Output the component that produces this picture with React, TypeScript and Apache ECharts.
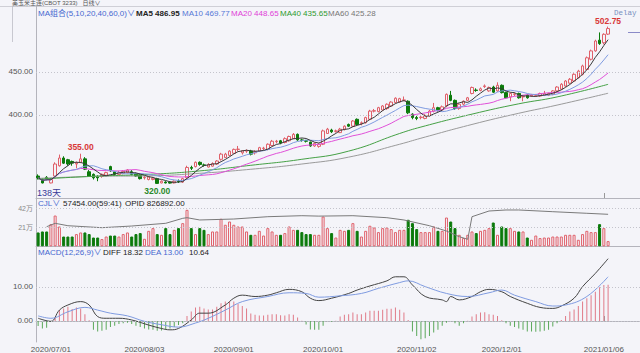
import React, { useEffect, useRef } from "react";
import * as echarts from "echarts";

const FONT = '"Liberation Sans", "Noto Sans CJK SC", "DejaVu Sans", sans-serif';
const BG = "#f4f4f9";
const UP = "#e0606a";
const DOWN = "#0b7a0b";
const AXIS = "#b4b4bc";
const GRIDLINE = "#c4c4cc";

// ---- categories (trading days) ----
const HOLIDAYS = ["2020/07/03", "2020/09/07", "2020/11/26", "2020/12/25", "2021/01/01"];
const FIRST_DAY = "2020/06/26";
const DAY_COUNT = 135;
const BLANK_SLOTS = 7;
const SHOWN_DATES = ["2020/07/01", "2020/08/03", "2020/09/01", "2020/10/01", "2020/11/02", "2020/12/01", "2021/01/06"];
const MARK_DATE = "2021/01/06";

// ---- candles ----
const opens = [
  329, 325, 327.5, 321, 329, 341, 350, 348, 346, 343,
  345, 349, 334, 331, 328, 328.5, 330, 340, 334, 331,
  332, 333, 334, 332, 330, 327, 325, 325, 326, 321,
  322, 322, 321, 323, 322, 327, 339, 340, 345, 342,
  339.5, 340.5, 343, 348.5, 350.5, 353, 355.5, 360, 356, 358,
  358, 356, 358, 361, 360, 364.5, 369, 370, 368, 370,
  372.5, 377.5, 371, 370, 368.5, 364, 363.5, 366, 378.5, 382.5,
  381, 379.5, 383.5, 389, 387, 395, 390, 391, 395, 404.5,
  404, 405.8, 407.5, 410.5, 414.5, 415, 417, 416, 401, 397,
  397, 396, 399, 404.5, 408.5, 406, 410.5, 423, 417, 407.5,
  412.5, 417, 425, 429, 428.5, 433, 428, 432.5, 428, 434.5,
  426, 421, 424, 425, 421, 423, 422, 423, 422, 423,
  423, 424, 428, 430, 433.7, 437, 439.5, 443.5, 447.3, 453,
  464.8, 474.5, 487, 484, 494,
];
const closes = [
  327, 321, 326, 325, 343, 350, 344, 343, 344, 344,
  349, 337, 329, 327, 327, 331, 333, 335, 331, 333,
  334.5, 336, 331, 329, 326, 327.5, 328, 326.5, 320.5, 323,
  321, 320.8, 323, 322.5, 326, 339, 338, 345, 342.5, 341.5,
  342.5, 343.5, 346.5, 354.5, 354.5, 358, 360, 360.3, 358.5, 358.5,
  354.5, 357.5, 362, 361.5, 366, 369.5, 369.5, 367.5, 372.5, 375,
  377.5, 371, 370.5, 369.5, 364, 367, 366, 381.5, 383.5, 380.5,
  381.5, 383.5, 387, 387, 393, 389, 391, 397, 404.5, 405,
  408.5, 410.5, 412.5, 415, 419.5, 419, 417.5, 402.5, 397, 396,
  397.5, 399.5, 404.5, 408.5, 406, 409.5, 424, 417, 407.5, 412.5,
  416, 420, 432, 428.5, 430.5, 433.8, 432, 426.5, 434.5, 426,
  420, 425, 424.5, 420, 421.5, 420, 423, 423, 425, 425,
  425, 428, 432.5, 435.7, 439.5, 441.5, 447.3, 451, 457, 466.5,
  474.5, 486, 483, 493.8, 500.5,
];
const lows = [
  325, 320.5, 324, 320.5, 328, 340, 343, 341, 341, 338,
  344, 336, 328, 325, 323, 327, 329, 334, 330, 330,
  331, 332, 330, 328, 325, 325, 324, 324, 320, 320.5,
  320.5, 320.2, 320.5, 321, 321, 326, 336, 339, 341, 340,
  339, 340, 342, 347, 350, 352, 355, 358, 354, 356,
  353, 354, 357, 359, 359, 364, 367, 366, 367, 369,
  372, 370, 369, 368, 363, 363, 362, 365, 378, 379,
  379.5, 379, 382, 386, 386, 388, 388, 390, 394, 403,
  403, 405, 406, 409.5, 413.5, 414, 416, 401, 395, 394,
  395, 395, 398, 403, 404, 405, 409, 416, 406, 406,
  411, 416, 424, 427, 427.5, 431.5, 427, 425.5, 427, 425,
  419, 416, 422, 419, 416, 419, 421, 421.5, 421, 422,
  422, 423, 427, 429, 432.5, 436, 438.5, 442.5, 446, 452,
  463.5, 473.5, 481.5, 482, 493,
];
const highs = [
  331, 326, 329, 326.5, 345, 354, 352, 349, 347, 346,
  355, 351, 336, 332, 330, 332, 334, 341, 335, 335,
  336, 337, 336, 333, 331, 329, 329, 328, 327, 324,
  323, 323, 324, 325, 327, 341, 341, 346, 346, 343.5,
  344, 345, 347.5, 356, 356, 359, 361, 364, 359, 360,
  359.5, 359, 363, 363, 367, 371, 371, 371, 374, 376,
  379, 378.5, 372.5, 371, 369, 368, 367, 383, 385, 384,
  383, 385, 388, 390, 394, 396, 392.5, 398, 406, 407,
  409.5, 411.5, 413.5, 416, 420.5, 420, 421.5, 417, 402, 399,
  399, 401, 406, 414, 409.5, 411, 425, 428, 418, 413.5,
  417, 421, 433, 431, 432, 435.5, 433, 434, 438, 435.5,
  427, 426, 426, 426, 423, 424, 424.5, 424.5, 426, 428,
  426, 429, 433.5, 437, 440.5, 443, 448.5, 452.5, 458.5, 468,
  476, 487.5, 496, 495, 502.75,
];

// MA40 / MA60 at sample points: [candle index, value]
const ma40Pts = [
  [0, 325.3], [14, 329], [26, 331], [38, 335], [50, 341.5], [62, 348.5], [73, 358],
  [85, 378.5], [90, 386], [102, 401], [113, 413], [122, 421], [134, 435.65],
];
const ma60Pts = [
  [0, 326.3], [14, 328.7], [26, 329.3], [38, 332.2], [50, 336.9], [62, 343], [73, 351],
  [85, 366], [90, 373], [102, 389], [113, 402], [122, 411.5], [134, 425.28],
];

// ---- volume (万) and open interest ----
const volumes = [
  15.3, 16.4, 16.4, 24.5, 34, 21.9, 10.8, 10.8, 10.8, 13.5,
  15.3, 15.3, 13.5, 9.7, 9.7, 8.0, 10.8, 11.9, 11.9, 10.8,
  13.5, 15.3, 10.8, 13.5, 14.6, 8.3, 17.1, 20.1, 13.5, 12.7,
  20.1, 13.5, 18.2, 20.1, 25.6, 40.3, 20.1, 13.5, 20.1, 18.2,
  13.5, 16.4, 16.4, 30.4, 23.8, 27.4, 23.8, 21.9, 21.9, 16.4,
  12.7, 12.7, 17.1, 11.9, 20.1, 16.4, 12.7, 12.7, 14.6, 21.9,
  18.2, 18.2, 15.7, 13.5, 13.5, 12.7,
  12.7, 32.9, 20.1, 14.6, 9.7, 18.2, 17.1, 18.2, 25.6, 17.1,
  10.8, 17.1, 22.7, 20.8, 15.7, 20.1, 20.8, 19, 15.7, 18.2,
  18.2, 29.3, 25.6, 19, 15.7, 15.7, 15.7, 21.9, 17.1, 17.1,
  31.8, 27.4, 20.1, 12.7, 9.1, 12.7, 16.4, 14.6, 17.1, 18.2,
  20.1, 26.3, 12.7, 21.9, 20.1, 20.1, 17.1, 16.4, 16.4, 9.7,
  7.2, 11.9, 9.1, 9.7, 9.7, 10.8, 10.8, 10.8, 12.7, 12.7,
  12.7, 7.2, 13.5, 17.1, 15.7, 15.7, 24.5, 20.1, 5.7454,
];
const opidPts = [
  [2, 506000], [4, 594000], [7, 532000], [15, 481000], [22, 524000], [30, 594000],
  [34, 723000], [35, 739000], [38, 680000], [46, 705000], [54, 765000], [62, 791000],
  [66, 780000], [74, 791000], [82, 739000], [86, 680000], [92, 532000], [96, 395000],
  [99, 248000], [101, 181000], [102, 765000], [106, 912000], [110, 938000], [113, 938000],
  [121, 894000], [129, 853000], [134, 826892],
];

// ---- MACD ----
const macdHist = [
  -1.5, -2.2, -2.0, -0.3, 1.0, 3.2, 3.7, 4.2, 3.5, 4.0,
  3.7, 2.0, 0.2, -2.6, -3.1, -2.9, -2.6, -1.8, -1.4, -0.9,
  -0.7, -0.5, -0.9, -1.4, -1.8, -2.2, -2.5, -2.6, -2.9, -2.8,
  -2.6, -2.2, -1.8, -1.2, -0.7, 1.5, 2.8, 4.0, 4.2, 3.7,
  3.4, 3.4, 4.2, 5.2, 5.7, 5.7, 5.7, 5.0, 4.4, 3.7,
  2.2, 1.8, 1.6, 1.6, 1.8, 2.0, 2.0, 1.7, 1.6, 2.0,
  1.8, 1.0, 0.1, -1.0, -2.5, -2.6, -2.6, -1.4, -0.2, -0.2,
  0.1, 1.3, 1.8, 2.0, 2.5, 2.0, 2.0, 2.5, 3.0, 3.0,
  3.0, 3.3, 3.6, 3.6, 4.0, 3.3, 2.5, 0.3, -3.1, -4.4,
  -5.4, -5.1, -4.4, -3.4, -2.6, -1.4, -0.5, -0.2, -0.7, -1.4,
  -0.7, 0.1, 1.3, 2.0, 2.5, 2.6, 2.0, 1.8, 1.5, 0.2,
  -0.7, -1.4, -1.8, -2.2, -2.6, -3.1, -3.1, -3.2, -3.1, -2.9,
  -2.6, -1.6, -0.7, 0.3, 1.5, 2.8, 3.4, 4.4, 5.7, 6.7,
  7.6, 8.6, 9.9, 10.6, 10.64,
];
const diffPts = [
  [0, 0.8], [3, -0.1], [5, 3.2], [7, 4.7], [10, 5.7], [12, 4.7], [14, 1.3], [16, 0.8],
  [19, 0.8], [22, 0.3], [26, -1.2], [29, -2.2], [31, -2.6], [33, -2.2], [36, 0.3], [38, 2.3],
  [40, 2.3], [44, 4.7], [46, 6.7], [48, 7.6], [51, 7.2], [54, 7.6], [56, 8.3], [59, 9.3],
  [62, 8.6], [64, 6.7], [66, 6.0], [69, 6.7], [73, 8.1], [75, 9.1], [78, 10.3], [82, 11.8],
  [84, 13.0], [86, 13.0], [88, 10.6], [91, 7.2], [95, 6.2], [96, 5.7], [97, 7.2], [99, 6.2],
  [102, 7.2], [104, 8.6], [106, 9.3], [109, 8.6], [111, 7.2], [115, 5.2], [118, 4.0],
  [121, 3.7], [123, 4.4], [126, 6.7], [128, 10.1], [131, 14.0], [134, 18.32],
];
const deaPts = [
  [0, 1.5], [3, 0.8], [7, 2.7], [11, 4.0], [14, 3.2], [17, 2.3], [21, 1.5], [25, -0.1],
  [29, -1.1], [33, -1.8], [37, -0.6], [40, 0.8], [44, 3.2], [48, 5.7], [54, 7.2], [59, 8.3],
  [63, 8.1], [66, 7.0], [71, 7.4], [76, 8.1], [80, 9.6], [85, 11.3], [87, 11.8], [91, 10.1],
  [96, 8.1], [101, 7.2], [106, 8.3], [109, 9.1], [112, 7.6], [117, 5.7], [121, 4.4],
  [124, 4.7], [129, 7.2], [134, 13.0],
];

// ---- header texts ----
const maHeader = [
  { text: "MA组合(5,10,20,40,60,0)∨", x: 38, color: "#4468d0", bold: false },
  { text: "MA5 486.95", x: 136, color: "#222222", bold: true },
  { text: "MA10 469.77", x: 182, color: "#5577d6", bold: false },
  { text: "MA20 448.65", x: 231, color: "#e040d8", bold: false },
  { text: "MA40 435.65", x: 280, color: "#2e9a2e", bold: false },
  { text: "MA60 425.28", x: 328, color: "#777777", bold: false },
];
const volHeader = [
  { text: "CJL∨", x: 38, color: "#4468d0", bold: false },
  { text: "57454.00(59:41)", x: 63, color: "#222222", bold: false },
  { text: "OPID 826892.00", x: 125, color: "#222222", bold: false },
];
const macdHeader = [
  { text: "MACD(12,26,9)∨", x: 38, color: "#4468d0", bold: false },
  { text: "DIFF 18.32", x: 103, color: "#222222", bold: false },
  { text: "DEA 13.00", x: 145, color: "#4468d0", bold: false },
  { text: "10.64", x: 189, color: "#222222", bold: false },
];

function tradingDays(): string[] {
  const out: string[] = [];
  const [y, m, d] = FIRST_DAY.split("/").map(Number);
  const dt = new Date(Date.UTC(y, m - 1, d));
  const pad = (n: number) => String(n).padStart(2, "0");
  while (out.length < DAY_COUNT) {
    const wd = dt.getUTCDay();
    const s = `${dt.getUTCFullYear()}/${pad(dt.getUTCMonth() + 1)}/${pad(dt.getUTCDate())}`;
    if (wd !== 0 && wd !== 6 && !HOLIDAYS.includes(s)) out.push(s);
    dt.setUTCDate(dt.getUTCDate() + 1);
  }
  return out;
}

function movingAvg(n: number): number[] {
  return closes.map((_, i) => {
    const w = closes.slice(Math.max(0, i - n + 1), i + 1);
    return +(w.reduce((a, b) => a + b, 0) / w.length).toFixed(2);
  });
}

function headerTexts(items: { text: string; x: number; color: string; bold: boolean }[], y: number) {
  return items.map((it) => ({
    type: "text",
    x: it.x,
    y,
    silent: true,
    style: {
      text: it.text,
      fill: it.color,
      fontSize: 8,
      fontWeight: it.bold ? "bold" : "normal",
      fontFamily: FONT,
      verticalAlign: "middle",
      textVerticalAlign: "middle",
    },
  }));
}

function buildOption() {
  const dates = tradingDays();
  const categories = [...dates, ...Array.from({ length: BLANK_SLOTS }, () => "")];
  const candleData = opens.map((o, i) => [o, closes[i], lows[i], highs[i]]);

  let hiIdx = 0;
  for (let i = 0; i <= 40; i++) if (highs[i] > highs[hiIdx]) hiIdx = i;
  let loIdx = 0;
  for (let i = 0; i <= 60; i++) if (lows[i] < lows[loIdx]) loIdx = i;
  let topIdx = 0;
  highs.forEach((h, i) => { if (h > highs[topIdx]) topIdx = i; });

  const gridLine = (vals: number[]) => ({
    silent: true,
    symbol: ["none", "none"],
    label: { show: false },
    lineStyle: { color: GRIDLINE, type: [1, 2], width: 1 },
    data: vals.map((v) => ({ yAxis: v })),
  });

  const xAxisFor = (g: number) => ({
    type: "category",
    gridIndex: g,
    data: categories,
    boundaryGap: true,
    axisLine: { show: true, lineStyle: { color: AXIS, width: 1 } },
    axisTick:
      g === 1
        ? { show: false }
        : {
            show: true,
            inside: true,
            length: 5,
            alignWithLabel: true,
            interval: (_i: number, v: string) => v === MARK_DATE,
            lineStyle: { color: "#999" },
          },
    axisLabel:
      g === 2
        ? {
            show: true,
            interval: (_i: number, v: string) => SHOWN_DATES.includes(v),
            fontSize: 8,
            color: "#555",
            margin: 3,
            fontFamily: FONT,
          }
        : { show: false },
    splitLine: { show: false },
  });

  const yLabel = {
    fontSize: 8,
    color: "#555",
    margin: 3,
    fontFamily: FONT,
  };

  const maLine = (name: string, data: any, color: string, smooth = false) => ({
    name,
    type: "line",
    xAxisIndex: 0,
    yAxisIndex: 0,
    data,
    smooth,
    symbol: "none",
    showSymbol: false,
    connectNulls: true,
    lineStyle: { color, width: 1 },
    silent: true,
  });

  return {
    animation: false,
    backgroundColor: BG,
    textStyle: { fontFamily: FONT },
    grid: [
      { left: 36, right: 0, top: 6, height: 192 },
      { left: 36, right: 0, top: 199, height: 47.3 },
      { left: 36, right: 0, top: 247, height: 95 },
    ],
    xAxis: [xAxisFor(0), xAxisFor(1), xAxisFor(2)],
    yAxis: [
      {
        type: "value", gridIndex: 0, min: 303.5, max: 526.7,
        axisLine: { show: true, lineStyle: { color: AXIS } },
        axisTick: { show: false }, splitLine: { show: false },
        axisLabel: { ...yLabel, customValues: [400, 450], formatter: (v: number) => v.toFixed(2) },
      },
      {
        type: "value", gridIndex: 1, min: 0, max: 52.28,
        axisLine: { show: true, lineStyle: { color: AXIS } },
        axisTick: { show: false }, splitLine: { show: false },
        axisLabel: { ...yLabel, fontSize: 7, color: "#888", customValues: [21, 42], formatter: (v: number) => `${v}万` },
      },
      { type: "value", gridIndex: 1, min: 0, max: 1222200, show: false, splitLine: { show: false } },
      {
        type: "value", gridIndex: 2, min: -6.18, max: 21.76,
        axisLine: { show: true, lineStyle: { color: AXIS } },
        axisTick: { show: false }, splitLine: { show: false },
        axisLabel: { ...yLabel, customValues: [0, 10], formatter: (v: number) => v.toFixed(2) },
      },
    ],
    series: [
      {
        name: "K",
        type: "candlestick",
        xAxisIndex: 0,
        yAxisIndex: 0,
        data: candleData,
        barWidth: 3,
        itemStyle: { color: BG, color0: DOWN, borderColor: UP, borderColor0: DOWN, borderWidth: 1 },
        markLine: gridLine([400, 450]),
        markPoint: {
          symbol: "circle",
          symbolSize: 1,
          itemStyle: { color: "rgba(0,0,0,0)" },
          label: { show: true, fontSize: 8.5, fontWeight: "bold", fontFamily: FONT, formatter: (p: any) => Number(p.value).toFixed(2) },
          data: [
            { coord: [dates[hiIdx], highs[hiIdx]], value: highs[hiIdx], label: { position: "top", distance: 2, color: "#d83838" } },
            { coord: [dates[loIdx], lows[loIdx]], value: lows[loIdx], label: { position: "bottom", distance: 2, color: "#2a8a2a" } },
            { coord: [dates[topIdx], highs[topIdx]], value: highs[topIdx], label: { position: "top", distance: 1, color: "#d83838" } },
          ],
        },
      },
      maLine("MA60", ma60Pts, "#9a9a9a", true),
      maLine("MA40", ma40Pts, "#45a045", true),
      maLine("MA20", movingAvg(20), "#e050d8"),
      maLine("MA10", movingAvg(10), "#7f9be0"),
      maLine("MA5", movingAvg(5), "#3a3a3a"),
      {
        name: "CJL",
        type: "bar",
        xAxisIndex: 1,
        yAxisIndex: 1,
        barWidth: 3,
        data: volumes.map((v, i) => ({
          value: v,
          itemStyle:
            closes[i] >= opens[i]
              ? { color: BG, borderColor: UP, borderWidth: 1 }
              : { color: DOWN, borderColor: DOWN, borderWidth: 1 },
        })),
        markLine: gridLine([21, 42]),
        silent: true,
      },
      {
        name: "OPID",
        type: "line",
        xAxisIndex: 1,
        yAxisIndex: 2,
        data: opidPts,
        symbol: "none",
        lineStyle: { color: "#7a7a7a", width: 1 },
        silent: true,
      },
      {
        name: "MACD",
        type: "bar",
        xAxisIndex: 2,
        yAxisIndex: 3,
        barWidth: 1,
        data: macdHist.map((v) => ({ value: v, itemStyle: { color: v >= 0 ? "#e07a88" : "#5aa85a" } })),
        markLine: gridLine([0, 10]),
        silent: true,
      },
      {
        name: "DIFF", type: "line", xAxisIndex: 2, yAxisIndex: 3, data: diffPts, smooth: 0.4,
        symbol: "none", lineStyle: { color: "#444", width: 1 }, silent: true,
      },
      {
        name: "DEA", type: "line", xAxisIndex: 2, yAxisIndex: 3, data: deaPts, smooth: 0.4,
        symbol: "none", lineStyle: { color: "#7f9be0", width: 1 }, silent: true,
      },
    ],
    graphic: [
      { type: "line", silent: true, shape: { x1: 0, y1: 6.5, x2: 640, y2: 6.5 }, style: { stroke: "#cfcfd6", lineWidth: 1 } },
      { type: "line", silent: true, shape: { x1: 12.5, y1: 7, x2: 12.5, y2: 42 }, style: { stroke: "#c8c8d0", lineWidth: 1 } },
      {
        type: "text", x: 12, y: 0, silent: true,
        style: { text: "美玉米主连(CBOT 3233)   日线∨", fill: "#555", fontSize: 6, fontFamily: FONT, verticalAlign: "top", textVerticalAlign: "top" },
      },
      ...headerTexts(maHeader, 13),
      ...headerTexts(volHeader, 203),
      ...headerTexts(macdHeader, 252),
      {
        type: "text", x: 614, y: 13, silent: true,
        style: { text: "Delay", fill: "#7890c0", fontSize: 7.5, fontFamily: '"Liberation Mono", monospace', verticalAlign: "middle", textVerticalAlign: "middle" },
      },
      {
        type: "text", x: 37, y: 193, silent: true,
        style: { text: "138天", fill: "#3a3a98", fontSize: 9, fontFamily: FONT, verticalAlign: "middle", textVerticalAlign: "middle" },
      },
      { type: "line", silent: true, shape: { x1: 628, y1: 32.5, x2: 640, y2: 32.5 }, style: { stroke: "#8a8ac8", lineWidth: 1 } },
    ],
  };
}

export default function App() {
  const ref = useRef<HTMLDivElement>(null);
  useEffect(() => {
    document.body.style.margin = "0";
    if (!ref.current) return;
    const chart = echarts.init(ref.current, undefined, { renderer: "svg" });
    chart.setOption(buildOption() as any);
    return () => chart.dispose();
  }, []);
  return <div ref={ref} style={{ position: "fixed", left: 0, top: 0, width: 640, height: 353 }} />;
}
